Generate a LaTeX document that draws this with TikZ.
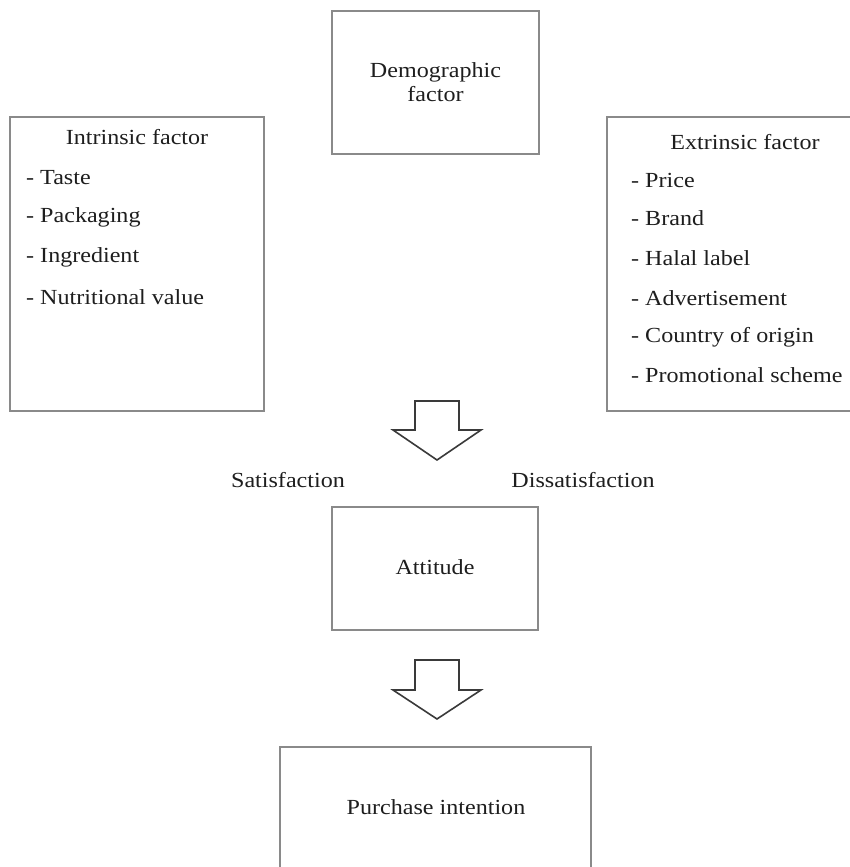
\documentclass[tikz,border=0pt]{standalone}
\usepackage{fontspec}
\setmainfont{Liberation Serif}[FakeStretch=1.12]
\begin{document}
\begin{tikzpicture}[x=1pt,y=-1pt,
  boxline/.style={draw=boxgray, line width=1.6pt, inner sep=0pt},
  txt/.style={text=txtcol, font=\fontsize{21.5}{24}\selectfont, inner sep=0pt},
  item/.style={txt, anchor=west},
  blockarrow/.style={draw=arrowcol, line width=1.6pt, line join=miter, fill=white}]
\definecolor{boxgray}{HTML}{8A8A8A}
\definecolor{txtcol}{HTML}{1E1E1E}
\definecolor{arrowcol}{HTML}{3A3A3A}
\useasboundingbox[fill=white] (0,0) rectangle (849,867);

% Demographic factor
\node[boxline, minimum width=207pt, minimum height=143pt] (demo) at (435.5,82.5) {};
\node[txt, align=center] (demotxt) at (demo.center) {Demographic\\factor};

% Intrinsic factor
\node[boxline, minimum width=254pt, minimum height=294pt] (intr) at (137,264) {};
\node[txt] (intrtitle) at (137,137) {Intrinsic factor};
\node[item] (i1) at (26,178) {- Taste};
\node[item] (i2) at (26,217) {- Packaging};
\node[item] (i3) at (26,257) {- Ingredient};
\node[item] (i4) at (26,297) {- Nutritional value};

% Extrinsic factor (cut by the right edge of the picture)
\node[boxline, minimum width=280pt, minimum height=294pt] (extr) at (747,264) {};
\node[txt] (extrtitle) at (745,142) {Extrinsic factor};
\node[item] (e1) at (631,180) {- Price};
\node[item] (e2) at (631,218) {- Brand};
\node[item] (e3) at (631,258) {- Halal label};
\node[item] (e4) at (631,298) {- Advertisement};
\node[item] (e5) at (631,337) {- Country of origin};
\node[item] (e6) at (631,375) {- Promotional scheme};

% Arrow 1
\coordinate (a1) at (437,401);
\draw[blockarrow] ([shift={(-22,0)}]a1) -- ([shift={(22,0)}]a1) -- ([shift={(22,29)}]a1)
  -- ([shift={(44,29)}]a1) -- ([shift={(0,59)}]a1) -- ([shift={(-44,29)}]a1)
  -- ([shift={(-22,29)}]a1) -- cycle;

\node[txt] (sat) at (288,480) {Satisfaction};
\node[txt] (dis) at (583,480) {Dissatisfaction};

% Attitude
\node[boxline, minimum width=206pt, minimum height=123pt] (att) at (435,568.5) {};
\node[txt] (atttxt) at (435,567) {Attitude};

% Arrow 2
\coordinate (a2) at (437,660);
\draw[blockarrow] ([shift={(-22,0)}]a2) -- ([shift={(22,0)}]a2) -- ([shift={(22,30)}]a2)
  -- ([shift={(44,30)}]a2) -- ([shift={(0,59)}]a2) -- ([shift={(-44,30)}]a2)
  -- ([shift={(-22,30)}]a2) -- cycle;

% Purchase intention (cut by the bottom edge of the picture)
\node[boxline, minimum width=311pt, minimum height=140pt] (pur) at (435.5,817) {};
\node[txt] (purtxt) at (436,807) {Purchase intention};
\end{tikzpicture}
\end{document}
